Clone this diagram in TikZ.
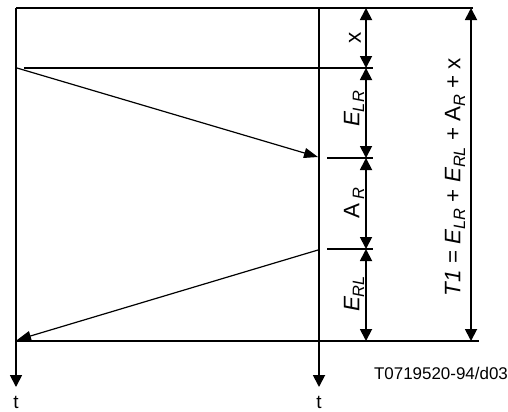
\documentclass[tikz,border=0pt]{standalone}
\usepackage{fontspec}
\setmainfont{Liberation Sans}
\usetikzlibrary{arrows.meta}
\newcommand{\lsub}[1]{\raisebox{-0.22em}{\fontsize{16.5}{18}\selectfont #1}}
\begin{document}
\begin{tikzpicture}[x=1bp,y=-1bp,
  thick line/.style={line width=1.8bp},
  thin line/.style={line width=1.2bp},
  timeline/.style={thick line,-{Triangle[width=12bp,length=12bp]}},
  msg/.style={thin line,-{Triangle[width=10bp,length=14bp]}},
  dim/.style={thick line,{Triangle[width=12bp,length=12bp]}-{Triangle[width=12bp,length=12bp]}},
  lbl/.style={font=\fontsize{22.5}{26}\selectfont,inner sep=0pt,rotate=90},
  small/.style={font=\fontsize{17}{20}\selectfont,inner sep=0pt},
  tlbl/.style={font=\fontsize{19}{22}\selectfont,inner sep=0pt}]
\useasboundingbox (0,0) rectangle (508,411);
% coordinates
\coordinate (Ltop) at (16,8);
\coordinate (Lbot) at (16,387);
\coordinate (Rtop) at (319,8);
\coordinate (Rbot) at (319,387);
\coordinate (topEnd) at (473,8);
\coordinate (xS) at (24,68);
\coordinate (xE) at (373,68);
\coordinate (aS) at (327,158);
\coordinate (aE) at (373,158);
\coordinate (bS) at (327,249);
\coordinate (bE) at (373,249);
\coordinate (botS) at (16,341);
\coordinate (botE) at (479,341);
\coordinate (d0) at (366,8);
\coordinate (d1) at (366,68);
\coordinate (d2) at (366,158);
\coordinate (d3) at (366,249);
\coordinate (d4) at (366,341);
\coordinate (T0) at (471,8);
\coordinate (T1) at (471,341);
\coordinate (m1s) at (17,68);
\coordinate (m1e) at (318,157);
\coordinate (m2s) at (318,250);
\coordinate (m2e) at (17,340);
% lines
\draw[thick line] (Ltop) -- (topEnd);
\draw[thick line] (xS) -- (xE);
\draw[thick line] (aS) -- (aE);
\draw[thick line] (bS) -- (bE);
\draw[thick line] (botS) -- (botE);
\draw[timeline] (Ltop) -- (Lbot);
\draw[timeline] (Rtop) -- (Rbot);
\draw[msg] (m1s) -- (m1e);
\draw[msg] (m2s) -- (m2e);
\draw[dim] (d0) -- (d1);
\draw[dim] (d1) -- (d2);
\draw[dim] (d2) -- (d3);
\draw[dim] (d3) -- (d4);
\draw[dim] (T0) -- (T1);
% labels
\node[lbl] (lx) at (355,38) {x};
\node[lbl] (lelr) at (354,109) {\itshape E\lsub{LR}};
\node[lbl] (lar) at (354,203) {A\,\lsub{\itshape R}};
\node[lbl] (lerl) at (354,294) {\itshape E\lsub{RL}};
\node[lbl] (lt) at (455,177) {\itshape T1\upshape{} = \itshape E\lsub{LR}\upshape{} + \itshape E\lsub{RL}\upshape{} + A\lsub{\itshape R}\upshape{} + x};
\node[tlbl] (tl) at (16,402) {t};
\node[tlbl] (tr) at (319,402) {t};
\node[small] (ref) at (441,373) {T0719520-94/d03};
\end{tikzpicture}
\end{document}
